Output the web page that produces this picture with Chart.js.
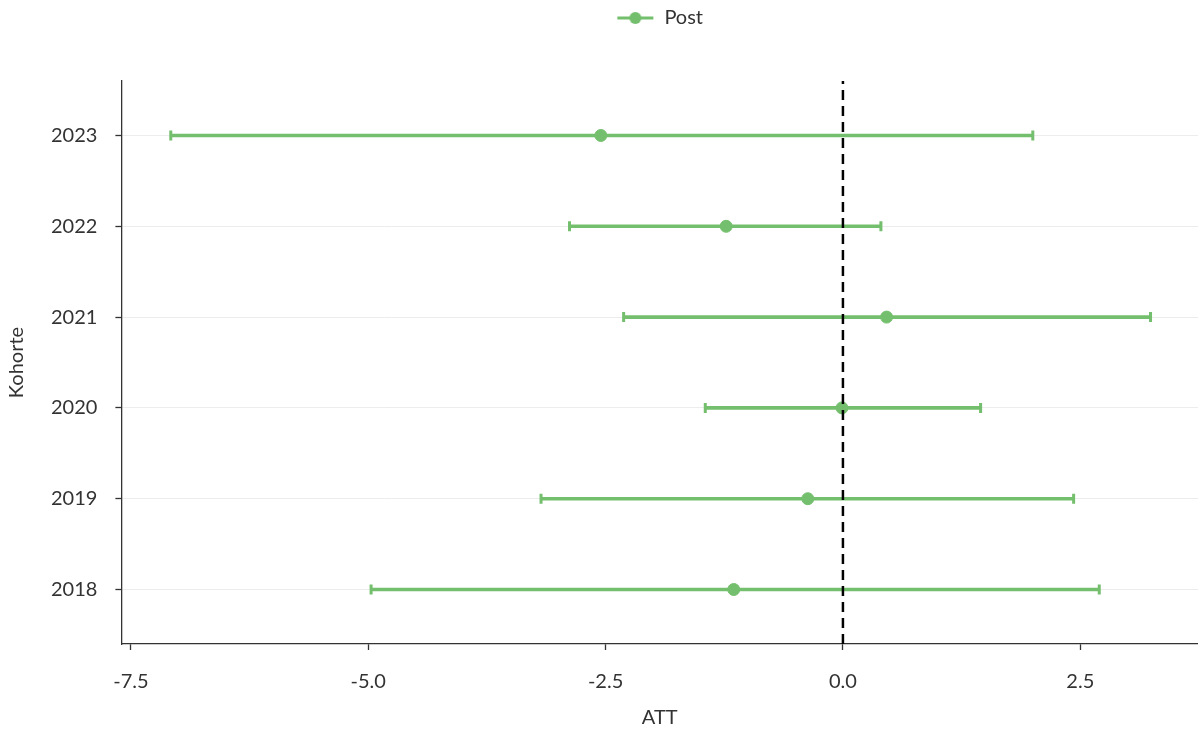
<!DOCTYPE html>
<html>
<head>
<meta charset="utf-8">
<script src="https://cdn.jsdelivr.net/npm/chart.js@4"></script>
<style>
  html, body { margin: 0; padding: 0; background: #fff; }
  #wrap { width: 1198px; height: 733px; }
</style>
</head>
<body>
<div id="wrap"><canvas id="chart"></canvas></div>
<script>
const cohorts = [2018, 2019, 2020, 2021, 2022, 2023];
const att = [-1.15, -0.37, -0.01, 0.46, -1.23, -2.55];
const ciLow = [-4.97, -3.18, -1.45, -2.31, -2.88, -7.08];
const ciHigh = [2.70, 2.43, 1.45, 3.24, 0.40, 2.00];
const xTicks = [-7.5, -5.0, -2.5, 0.0, 2.5];

const green = 'rgb(116,191,109)';
const dark = '#333333';
const font = { family: 'Lato, "Open Sans", sans-serif', size: 20 };

// legend icon: short line through a dot
const icon = document.createElement('canvas');
icon.width = 38; icon.height = 16;
const ic = icon.getContext('2d');
ic.strokeStyle = green; ic.lineWidth = 3;
ic.beginPath(); ic.moveTo(1, 8); ic.lineTo(37, 8); ic.stroke();
ic.fillStyle = green;
ic.beginPath(); ic.arc(19, 8, 6, 0, Math.PI * 2); ic.fill();

// push the plot down below the legend
const legendGap = {
    id: 'legendGap',
    beforeInit(c) {
        const fit = c.legend.fit;
        c.legend.fit = function () { fit.call(this); this.height += 43; };
    }
};

const chart = document.querySelector('#chart').getContext('2d');

new Chart(chart, {
    type: 'scatter',
    plugins: [legendGap],
    data: {
        datasets: [
            {
                label: 'zero',
                type: 'line',
                data: [{ x: 0, y: 2017.4 }, { x: 0, y: 2023.6 }],
                borderColor: '#000',
                borderWidth: 2.5,
                borderDash: [10, 6],
                pointRadius: 0,
                order: 0
            },
            {
                label: 'Post',
                data: cohorts.map((c, i) => ({ x: att[i], y: c })),
                backgroundColor: green,
                borderColor: green,
                pointRadius: 6,
                pointHoverRadius: 6,
                order: 1
            },
            {
                label: 'ci',
                type: 'bar',
                indexAxis: 'y',
                data: cohorts.map((c, i) => ({ x: [ciLow[i], ciHigh[i]], y: c })),
                backgroundColor: green,
                barThickness: 3,
                order: 3
            },
            {
                label: 'caps',
                data: cohorts.flatMap((c, i) => [{ x: ciLow[i], y: c }, { x: ciHigh[i], y: c }]),
                pointStyle: 'line',
                rotation: 90,
                pointRadius: 5,
                borderWidth: 3,
                borderColor: green,
                order: 2
            }
        ]
    },
    options: {
        responsive: true,
        maintainAspectRatio: false,
        animation: false,
        layout: { autoPadding: false, padding: { top: 1, right: 0, left: 1, bottom: 3 } },
        plugins: {
            tooltip: { enabled: false },
            legend: {
                position: 'top',
                fullSize: false,
                labels: {
                    usePointStyle: true,
                    pointStyleWidth: 38,
                    color: dark,
                    font: font,
                    padding: 7,
                    generateLabels: c => [{ text: 'Post', pointStyle: icon, fontColor: dark, datasetIndex: 1 }]
                }
            }
        },
        scales: {
            x: {
                type: 'linear',
                min: -7.6,
                max: 3.74,
                afterBuildTicks: s => { s.ticks = xTicks.map(v => ({ value: v })); },
                afterFit: s => { s.paddingRight = 0; s.height -= 8; },
                ticks: {
                    color: dark,
                    font: font,
                    padding: 20,
                    callback: v => v.toFixed(1)
                },
                grid: { drawOnChartArea: false, tickLength: 6, tickColor: dark, tickWidth: 1.3 },
                border: { color: dark, width: 1.3 },
                title: { display: true, text: 'ATT', color: dark, font: font, padding: { top: 0, bottom: 0 } }
            },
            y: {
                type: 'linear',
                offset: false,
                min: 2017.4,
                max: 2023.6,
                afterBuildTicks: s => { s.ticks = cohorts.map(v => ({ value: v })); },
                ticks: {
                    color: dark,
                    font: font,
                    padding: 18,
                    callback: v => String(v)
                },
                grid: { offset: false, color: '#ececec', lineWidth: 1, tickLength: 6, tickColor: dark, tickWidth: 1.3 },
                border: { color: dark, width: 1.3 },
                title: { display: true, text: 'Kohorte', color: dark, font: font, padding: { bottom: 4 } }
            }
        }
    }
});
</script>
</body>
</html>
